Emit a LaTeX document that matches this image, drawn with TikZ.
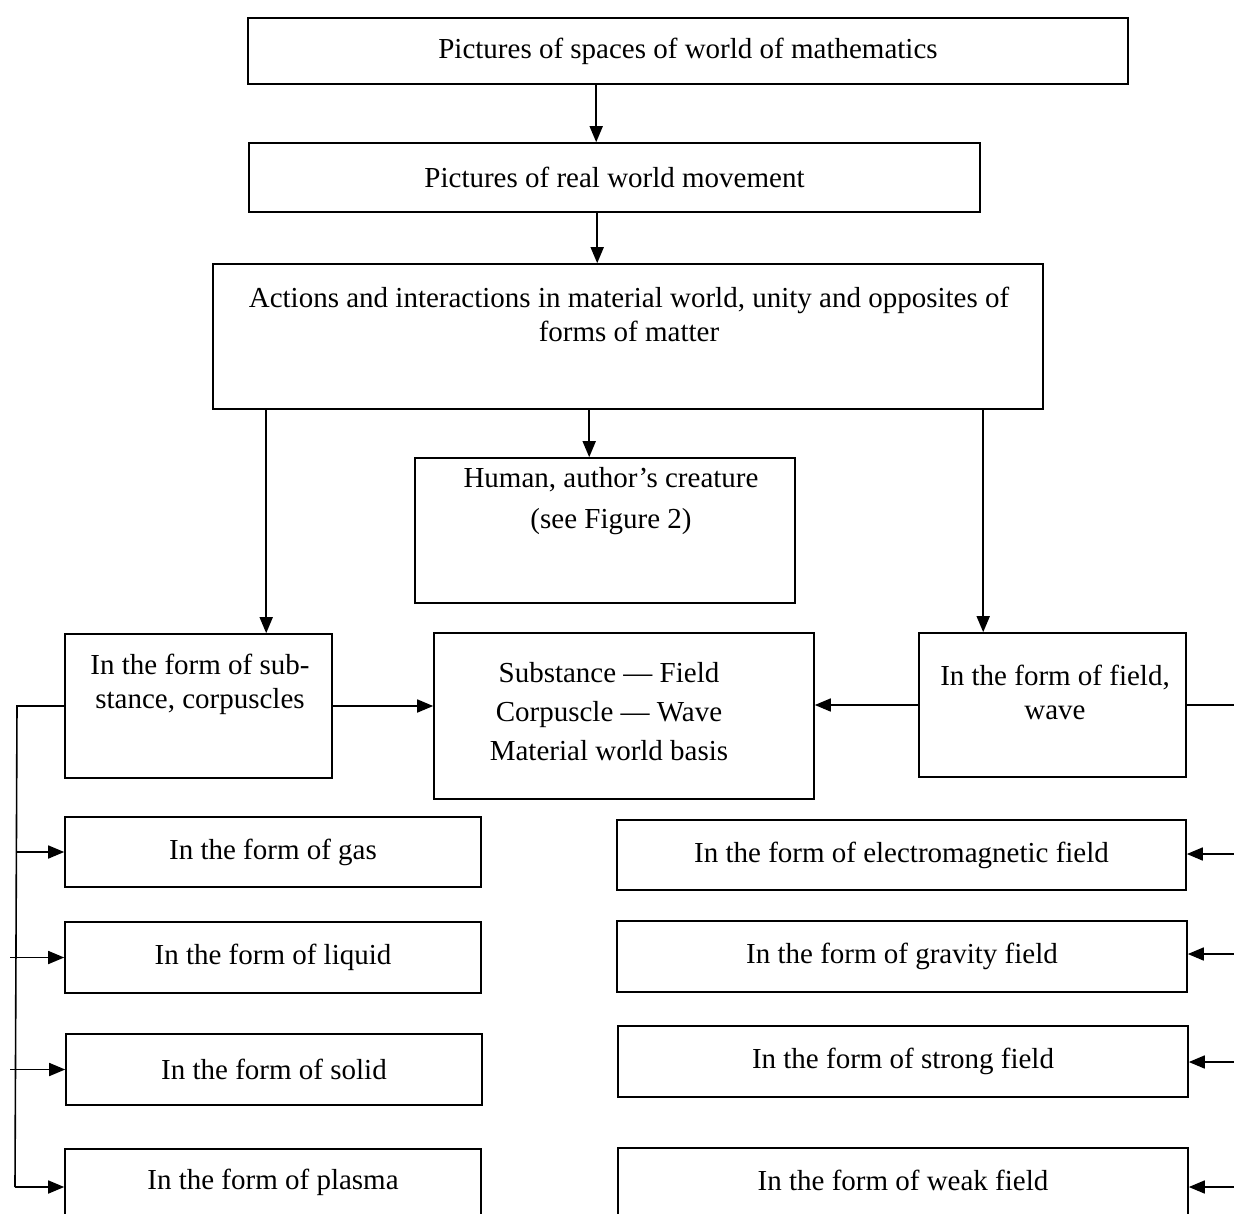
\documentclass[tikz,border=0pt]{standalone}
\usepackage{fontspec}
\setmainfont{Liberation Serif}
\usetikzlibrary{arrows.meta}
\tikzset{
  box/.style={draw, line width=1.6pt, inner sep=0pt, align=center, font=\fontsize{29}{34}\selectfont},
  txt/.style={inner sep=0pt, align=center, font=\fontsize{29}{34}\selectfont},
  arr/.style={line width=1.6pt, -{Triangle[length=16pt,width=13pt]}},
  ln/.style={line width=1.6pt},
}
\newcommand{\bx}[6][]{%
  \node[box,#1, minimum width={#4-#2}, minimum height={#5-#3}] (#6) at ({(#2+#4)/2},{(#3+#5)/2})}
\begin{document}
\begin{tikzpicture}[x=1pt,y=-1pt]
\useasboundingbox (0,0) rectangle (1234,1213);
\clip (0,0) rectangle (1234,1213);
\fill[white] (0,0) rectangle (1234,1213);

\bx{248}{18}{1128}{84}{b1} {Pictures of spaces of world of mathematics};
\bx{249}{143}{980}{212}{b2} {Pictures of real world movement};
\bx{213}{264}{1043}{409}{b3} {};
\node[txt] (b3t) at (629,314) {Actions and interactions in material world, unity and opposites of\\forms of matter};
\bx{415}{458}{795}{603}{b4} {};
\node[txt, font=\fontsize{29}{41}\selectfont] (b4t) at (611,501) {Human, author’s creature\\(see Figure 2)};
\bx{65}{634}{332}{778}{b5} {};
\node[txt] (b5t) at (200,684) {In the form of sub-\\stance, corpuscles};
\bx{434}{633}{814}{799}{b6} {};
\node[txt, font=\fontsize{29}{39}\selectfont] (b6t) at (609,712) {Substance — Field\\Corpuscle — Wave\\Material world basis};
\bx{919}{633}{1186}{777}{b7} {};
\node[txt] (b7t) at (1055,692) {In the form of field,\\wave};

\bx{65}{817}{481}{887}{gas} {In the form of gas};
\bx{65}{922}{481}{993}{liq} {In the form of liquid};
\bx{66}{1034}{482}{1105}{sol} {In the form of solid};
\bx{65}{1149}{481}{1216}{pla} {In the form of plasma};

\bx{617}{820}{1186}{890}{em} {In the form of electromagnetic field};
\bx{617}{921}{1187}{992}{gra} {In the form of gravity field};
\bx{618}{1026}{1188}{1097}{str} {In the form of strong field};
\bx{618}{1148}{1188}{1222}{wea} {};
\node[txt] (weat) at (903,1180) {In the form of weak field};

% vertical arrows
\draw[arr] ([xshift=349pt]b1.south west) -- ([xshift=349pt]b1.south west |- b2.north);
\draw[arr] ([xshift=349pt]b2.south west) -- ([xshift=349pt]b2.south west |- b3.north);
\draw[arr] ([xshift=377pt]b3.south west) -- ([xshift=377pt]b3.south west |- b4.north);
\draw[arr] ([xshift=54pt]b3.south west) -- ([xshift=54pt]b3.south west |- b5.north);
\draw[arr] ([xshift=771pt]b3.south west) -- ([xshift=771pt]b3.south west |- b7.north);

% to central box
\draw[arr] (b5.east) -- (b5.east -| b6.west);
\draw[arr] (b7.west) -- (b7.west -| b6.east);

% left bus
\coordinate (busT) at (17,706);
\coordinate (busB) at (15,1187);
\draw[ln] (b5.west) -- (busT) -- (busB);
\draw[arr] (gas.west -| busT) -- (gas.west);
\draw[arr] (10,957.5) coordinate (lq) -- (liq.west);
\draw[arr] (10,1069.5) coordinate (ls) -- (sol.west);
\draw[arr] (busB) -- (busB -| pla.west);

% right side
\coordinate (rb) at (1234,706);
\draw[ln] (b7.east) -- (b7.east -| rb);
\coordinate (r1) at (1234,854);
\coordinate (r2) at (1234,954);
\coordinate (r3) at (1234,1062);
\coordinate (r4) at (1234,1187);
\draw[arr] (r1) -- (r1 -| em.east);
\draw[arr] (r2) -- (r2 -| gra.east);
\draw[arr] (r3) -- (r3 -| str.east);
\draw[arr] (r4) -- (r4 -| wea.east);
\end{tikzpicture}
\end{document}
